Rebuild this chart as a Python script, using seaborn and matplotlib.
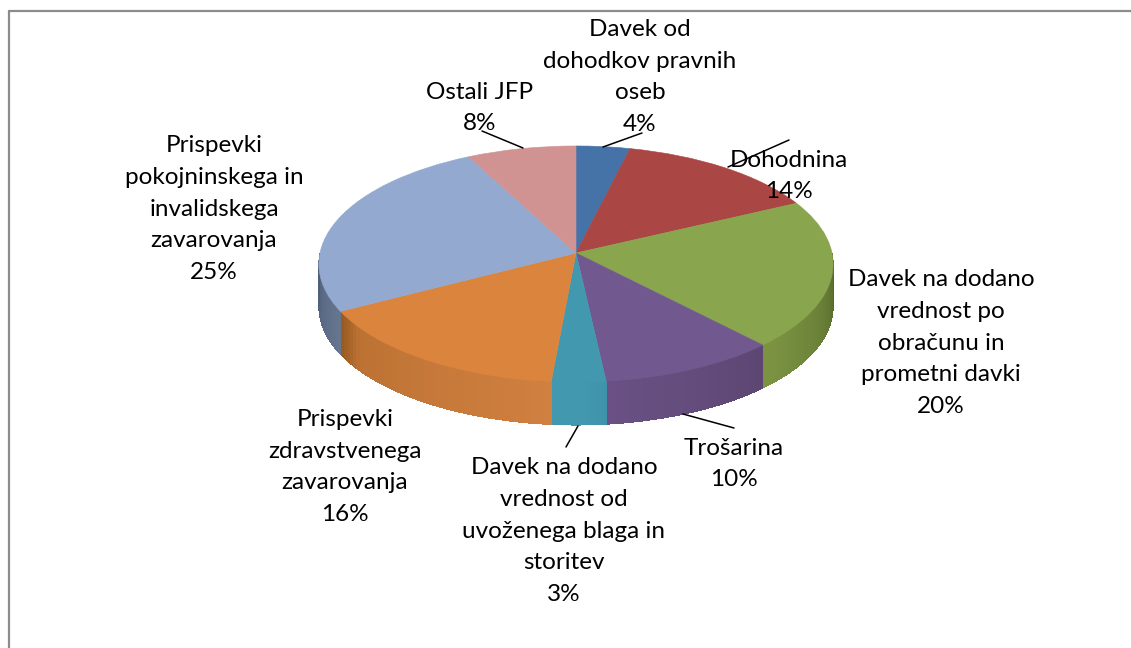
import numpy as np
import seaborn as sns
import matplotlib.pyplot as plt
from matplotlib.colors import to_rgb
from matplotlib.transforms import Transform

# Slices, clockwise from the top
labels = ['Davek od\ndohodkov pravnih\noseb\n4%',
          'Dohodnina\n14%',
          'Davek na dodano\nvrednost po\nobračunu in\nprometni davki\n20%',
          'Trošarina\n10%',
          'Davek na dodano\nvrednost od\nuvoženega blaga in\nstoritev\n3%',
          'Prispevki\nzdravstvenega\nzavarovanja\n16%',
          'Prispevki\npokojninskega in\ninvalidskega\nzavarovanja\n25%',
          'Ostali JFP\n8%']
values = [3.7, 14.0, 20.4, 10.2, 3.1, 15.7, 25.4, 7.5]
top_colors = ['#4572a7', '#aa4643', '#89a54e', '#71588f', '#4198af', '#db843d', '#93a9cf', '#d19392']
# Shading of the visible rim, clockwise along each slice
side_colors = [None, None,
               ['#4f6128', '#6a8038', '#7c9442'],
               ['#5c4672', '#644c7c', '#6a5084'],
               ['#3f94ab', '#4298ae', '#4298ae'],
               ['#d08040', '#bc7233', '#96591f'],
               ['#66768f', '#5a6a84', '#4d5d78'],
               None]

label_x = [640, 789, 941, 734, 564, 345, 214, 480]
label_y = [77, 176, 343, 464, 531, 467, 209, 108]
leaders = [((603, 147), (642, 133)), ((728, 167), (789, 140)), None,
           ((683, 414), (734, 428)), ((578, 426), (566, 447)), None, None,
           ((523, 148), (482, 131))]

# pie geometry on the page, in pixels
cx, cy = 576, 253
rx, ry, tilt = 256, 117, 0.0932
depth = 43


def project(u, v):
    d = 1 + tilt * v
    return cx + rx * u / d, cy - ry * v / d


class Tilt(Transform):
    input_dims = output_dims = 2

    def transform_non_affine(self, xy):
        xy = np.asarray(xy)
        return np.column_stack(project(xy[:, 0], xy[:, 1]))


sns.set_theme(style='white')
plt.rcParams['font.family'] = ['Lato', 'DejaVu Sans']

fig = plt.figure(figsize=(11.31, 6.48), dpi=100)
ax = fig.add_axes([0, 0, 1, 1])

wedges, _ = ax.pie(values, colors=sns.color_palette(top_colors), startangle=90, counterclock=False,
                   wedgeprops={'linewidth': 0.4, 'zorder': 3})
for w, c in zip(wedges, top_colors):
    w.set_edgecolor(c)
    w.set_transform(Tilt() + ax.transData)

ax.set_aspect('auto')
ax.set_xlim(0, 1131)
ax.set_ylim(648, 0)

# rim, cut into thin strips so it can carry the shading
edges = np.cumsum([0] + values) * 3.6
for i, stops in enumerate(side_colors):
    if stops is None:
        continue
    a0, a1 = max(edges[i], 90), min(edges[i + 1], 270)
    cuts = np.linspace(a0, a1, 41)
    if i == 5:
        pos = [0, 0.85, 1]
    else:
        pos = [0, 0.5, 1]
    rgb = np.array([to_rgb(c) for c in stops])
    for j in range(40):
        t = (j + 0.5) / 40
        col = tuple(np.interp(t, pos, rgb[:, n]) for n in range(3))
        th = np.radians(np.linspace(cuts[j], min(cuts[j + 1] + 1.5, a1), 6))
        x, y = project(np.sin(th), np.cos(th))
        ax.fill(np.r_[x, x[::-1]], np.r_[y, y[::-1] + depth], facecolor=col, edgecolor='none',
                antialiased=False, zorder=2)

for seg in leaders:
    if seg:
        ax.plot([seg[0][0], seg[1][0]], [seg[0][1], seg[1][1]], color='black', lw=1.1, zorder=4)

for name, x, y in zip(labels, label_x, label_y):
    ax.text(x, y, name, ha='center', va='center', fontsize=17.5, color='black',
            linespacing=1.64, zorder=5)

# chart border, only the top and left edges fall inside the picture
ax.plot([9, 9], [648, 11], color='#8c8c8c', lw=1.6, zorder=1)
ax.plot([9, 1131], [11, 11], color='#8c8c8c', lw=1.6, zorder=1)

ax.set_axis_off()
fig.savefig('out.png', dpi=100, facecolor='white')
